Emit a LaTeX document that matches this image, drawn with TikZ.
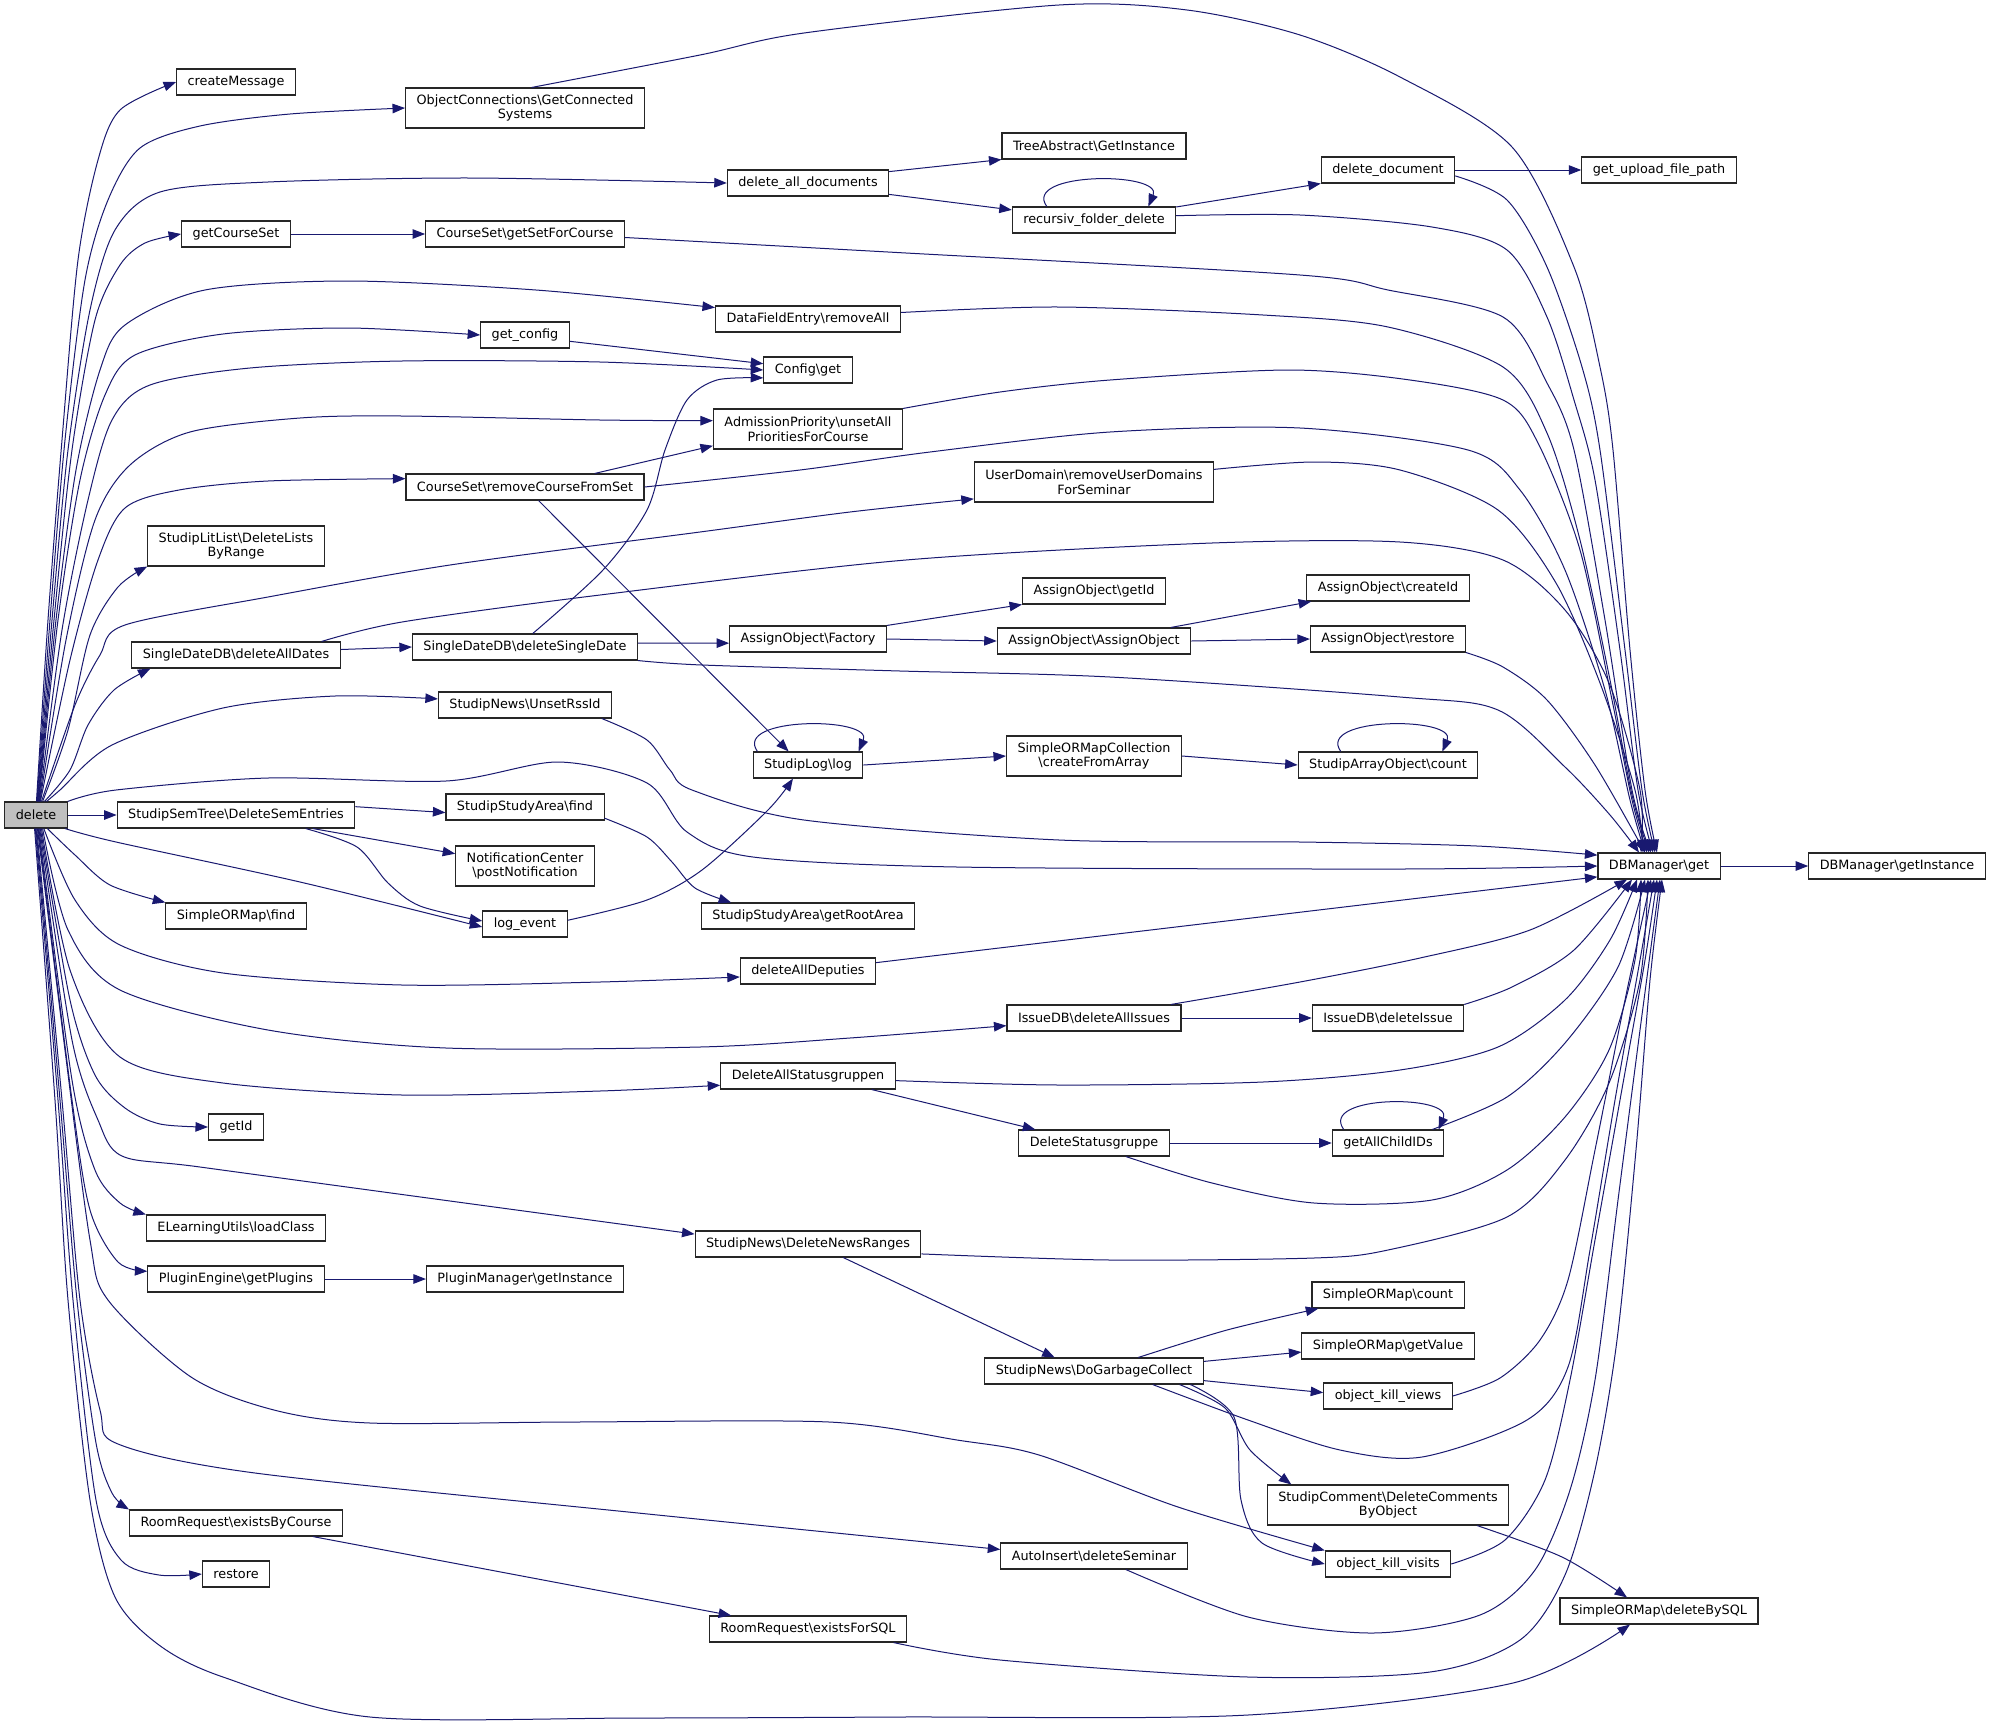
\documentclass[tikz,border=0pt]{standalone}
\usepackage{fontspec}
\setmainfont{DejaVu Sans}
\usetikzlibrary{arrows.meta}
\definecolor{edgecol}{HTML}{191970}
\definecolor{rootgray}{HTML}{BFBFBF}
\newcommand{\bsl}{\textbackslash}
\begin{document}
\begin{tikzpicture}[x=1pt,y=-1pt,
  fn/.style={draw=black!85,line width=1.1pt,fill=white,inner xsep=11pt,inner ysep=2pt,minimum height=26pt,align=center,font=\fontsize{12.8}{14.5}\selectfont},
  two/.style={minimum height=40pt},
  call/.style={draw=edgecol,line width=1pt,-{Triangle[length=12.5pt,width=9.5pt]}}]
\fill[white] (0,0) rectangle (1992,1727);
\useasboundingbox (0,0) rectangle (1992,1727);
\node[fn,fill=rootgray] (del) at (36,815) {delete};
\node[fn] (cmsg) at (236,82) {createMessage};
\node[fn,two] (ocgs) at (525,108) {ObjectConnections\bsl GetConnected\\Systems};
\node[fn] (gcs) at (236,234) {getCourseSet};
\node[fn] (gsfc) at (525,234) {CourseSet\bsl getSetForCourse};
\node[fn] (gcfg) at (525,335) {get\_config};
\node[fn] (dad) at (808,183) {delete\_all\_documents};
\node[fn] (tagi) at (1094,146) {TreeAbstract\bsl GetInstance};
\node[fn] (rfd) at (1094,220) {recursiv\_folder\_delete};
\node[fn] (ddoc) at (1388,170) {delete\_document};
\node[fn] (gufp) at (1659,170) {get\_upload\_file\_path};
\node[fn] (dfra) at (808,319) {DataFieldEntry\bsl removeAll};
\node[fn] (cfg) at (808,370) {Config\bsl get};
\node[fn,two] (apua) at (808,429) {AdmissionPriority\bsl unsetAll\\PrioritiesForCourse};
\node[fn] (rcfs) at (525,487) {CourseSet\bsl removeCourseFromSet};
\node[fn,two] (udr) at (1094,482) {UserDomain\bsl removeUserDomains\\ForSeminar};
\node[fn,two] (sll) at (236,546) {StudipLitList\bsl DeleteLists\\ByRange};
\node[fn] (sdall) at (236,655) {SingleDateDB\bsl deleteAllDates};
\node[fn] (sdone) at (525,647) {SingleDateDB\bsl deleteSingleDate};
\node[fn] (aogid) at (1094,591) {AssignObject\bsl getId};
\node[fn] (aofac) at (808,639) {AssignObject\bsl Factory};
\node[fn] (aoao) at (1094,641) {AssignObject\bsl AssignObject};
\node[fn] (aocid) at (1388,588) {AssignObject\bsl createId};
\node[fn] (aores) at (1388,639) {AssignObject\bsl restore};
\node[fn] (urss) at (525,705) {StudipNews\bsl UnsetRssId};
\node[fn] (slog) at (808,765) {StudipLog\bsl log};
\node[fn,two] (smcfa) at (1094,756) {SimpleORMapCollection\\\bsl createFromArray};
\node[fn] (saoc) at (1388,765) {StudipArrayObject\bsl count};
\node[fn] (dbm) at (1659,866) {DBManager\bsl get};
\node[fn] (dbmi) at (1897,866) {DBManager\bsl getInstance};
\node[fn] (sst) at (236,815) {StudipSemTree\bsl DeleteSemEntries};
\node[fn] (ssaf) at (525,807) {StudipStudyArea\bsl find};
\node[fn,two] (ncpn) at (525,866) {NotificationCenter\\\bsl postNotification};
\node[fn] (smf) at (236,916) {SimpleORMap\bsl find};
\node[fn] (lev) at (525,924) {log\_event};
\node[fn] (ssra) at (808,916) {StudipStudyArea\bsl getRootArea};
\node[fn] (dadp) at (808,971) {deleteAllDeputies};
\node[fn] (idai) at (1094,1018) {IssueDB\bsl deleteAllIssues};
\node[fn] (idi) at (1388,1018) {IssueDB\bsl deleteIssue};
\node[fn] (dasg) at (808,1076) {DeleteAllStatusgruppen};
\node[fn] (dsg) at (1094,1143) {DeleteStatusgruppe};
\node[fn] (gaci) at (1388,1143) {getAllChildIDs};
\node[fn] (gid) at (236,1127) {getId};
\node[fn] (elu) at (236,1228) {ELearningUtils\bsl loadClass};
\node[fn] (dnr) at (808,1244) {StudipNews\bsl DeleteNewsRanges};
\node[fn] (peg) at (236,1279) {PluginEngine\bsl getPlugins};
\node[fn] (pmi) at (525,1279) {PluginManager\bsl getInstance};
\node[fn] (smcnt) at (1388,1295) {SimpleORMap\bsl count};
\node[fn] (smgv) at (1388,1346) {SimpleORMap\bsl getValue};
\node[fn] (dgc) at (1094,1371) {StudipNews\bsl DoGarbageCollect};
\node[fn] (okv) at (1388,1396) {object\_kill\_views};
\node[fn,two] (scdo) at (1388,1505) {StudipComment\bsl DeleteComments\\ByObject};
\node[fn] (aids) at (1094,1556) {AutoInsert\bsl deleteSeminar};
\node[fn] (okvs) at (1388,1564) {object\_kill\_visits};
\node[fn] (smdb) at (1659,1611) {SimpleORMap\bsl deleteBySQL};
\node[fn] (rrbc) at (236,1523) {RoomRequest\bsl existsByCourse};
\node[fn] (rst) at (236,1574) {restore};
\node[fn] (rrsql) at (808,1629) {RoomRequest\bsl existsForSQL};
% calls out of delete, upper half
\draw[call] plot[smooth] coordinates {(del.88) (48,620) (62,440) (78,260) (98,160) (120,110) (cmsg.west)};
\draw[call] plot[smooth] coordinates {(del.86) (50,620) (65,440) (85,280) (108,200) (140,148) (200,126) (290,114) (ocgs.west)};
\draw[call] plot[smooth] coordinates {(del.84) (52,620) (68,450) (90,310) (115,230) (160,192) (268,182) (470,178) (dad.west)};
\draw[call] plot[smooth] coordinates {(del.82) (54,620) (72,450) (95,320) (120,265) (145,243) (gcs.west)};
\draw[call] plot[smooth] coordinates {(del.80) (56,620) (76,470) (100,370) (125,325) (205,290) (348,281) (536,290) (dfra.173)};
\draw[call] plot[smooth] coordinates {(del.78) (58,620) (80,480) (105,395) (135,355) (223,334) (348,328) (gcfg.west)};
\draw[call] plot[smooth] coordinates {(del.76) (62,630) (88,500) (112,420) (150,385) (250,368) (402,361) (600,362) (cfg.180)};
\draw[call] plot[smooth] coordinates {(del.74) (66,640) (95,520) (130,465) (190,432) (300,418) (402,416) (600,420) (apua.175)};
\draw[call] plot[smooth] coordinates {(del.72) (70,660) (98,560) (125,508) (179,490) (268,481) (rcfs.176)};
\draw[call] plot[smooth] coordinates {(del.68) (75,705) (100,655) (125,625) (268,597) (450,565) (700,532) (850,512) (udr.188)};
\draw[call] plot[smooth] coordinates {(del.64) (68,730) (90,635) (118,587) (sll.south west)};
\draw[call] plot[smooth] coordinates {(del.58) (70,770) (88,725) (114,690) (sdall.189)};
\draw[call] plot[smooth] coordinates {(del.52) (60,790) (112,745) (223,708) (335,696) (urss.176)};
\draw[call] plot[smooth] coordinates {(del.north east) (116,790) (268,778) (446,781) (558,762) (647,783) (687,832) (753,857) (957,867) (1400,869) (dbm.west)};
% calls out of delete, lower half
\draw[call] (del.east) -- (sst.west);
\draw[call] plot[smooth] coordinates {(del.-25) (116,842) (300,882) (lev.184)};
\draw[call] plot[smooth] coordinates {(del.-50) (75,855) (110,885) (smf.north west)};
\draw[call] plot[smooth] coordinates {(del.-60) (75,900) (120,945) (223,973) (402,985) (600,982) (dadp.185)};
\draw[call] plot[smooth] coordinates {(del.-64) (68,930) (120,990) (268,1030) (446,1048) (700,1047) (850,1038) (idai.185)};
\draw[call] plot[smooth] coordinates {(del.-68) (70,970) (120,1057) (223,1083) (402,1095) (600,1091) (dasg.186)};
\draw[call] plot[smooth] coordinates {(del.-72) (70,1000) (95,1075) (125,1108) (160,1124) (gid.west)};
\draw[call] plot[smooth] coordinates {(del.-75) (72,1040) (98,1120) (122,1156) (200,1167) (450,1201) (dnr.175)};
\draw[call] plot[smooth] coordinates {(del.-78) (72,1080) (95,1170) (120,1203) (elu.north west)};
\draw[call] plot[smooth] coordinates {(del.-81) (72,1100) (90,1210) (118,1262) (peg.175)};
\draw[call] plot[smooth] coordinates {(del.-84) (65,1050) (90,1240) (108,1300) (191,1377) (274,1410) (370,1423) (574,1422) (829,1422) (957,1440) (1039,1455) (1178,1507) (okvs.north west)};
\draw[call] plot[smooth] coordinates {(del.-87) (62,1100) (80,1300) (100,1410) (118,1444) (255,1473) (638,1513) (aids.176)};
\draw[call] plot[smooth] coordinates {(del.-90) (60,1100) (77,1300) (96,1443) (112,1493) (rrbc.north west)};
\draw[call] plot[smooth] coordinates {(del.-93) (58,1100) (73,1300) (96,1500) (121,1560) (159,1575) (rst.west)};
\draw[call] plot[smooth] coordinates {(del.-96) (55,1100) (68,1300) (90,1500) (115,1597) (159,1645) (223,1677) (370,1717) (638,1718) (900,1717) (1248,1715) (1513,1683) (smdb.205)};
% into DBManager from above
\draw[call] plot[smooth] coordinates {(ocgs.72) (700,55) (804,33) (1059,5) (1187,10) (1300,35) (1400,77) (1512,147) (1574,267) (1600,367) (1613,450) (1630,650) (1645,790) ([xshift=-2pt]dbm.north)};
\draw[call] plot[smooth] coordinates {(ddoc.-5) (1507,200) (1547,267) (1582,367) (1600,450) (1625,650) (1642,790) ([xshift=-4pt]dbm.north)};
\draw[call] plot[smooth] coordinates {(rfd.3) (1300,215) (1432,227) (1507,250) (1547,317) (1574,400) (1595,480) (1620,650) (1638,790) ([xshift=-6pt]dbm.north)};
\draw[call] plot[smooth] coordinates {(gsfc.-2) (906,253) (1300,275) (1388,290) (1503,317) (1547,383) (1574,450) (1605,620) (1632,790) ([xshift=-8pt]dbm.north)};
\draw[call] plot[smooth] coordinates {(dfra.4) (1059,307) (1263,315) (1388,327) (1503,367) (1547,433) (1580,540) (1610,680) (1632,795) ([xshift=-10pt]dbm.north)};
\draw[call] plot[smooth] coordinates {(apua.north east) (1000,392) (1110,380) (1289,370) (1410,380) (1503,400) (1538,443) (1580,550) (1612,700) (1632,800) ([xshift=-12pt]dbm.north)};
\draw[call] plot[smooth] coordinates {(rcfs.east) (800,470) (930,452) (1110,432) (1300,428) (1468,450) (1520,490) (1565,570) (1605,690) (1630,800) ([xshift=-14pt]dbm.north)};
\draw[call] plot[smooth] coordinates {(udr.6) (1314,462) (1400,470) (1498,510) (1556,583) (1600,683) (1635,790) ([xshift=-16pt]dbm.north)};
\draw[call] plot[smooth] coordinates {(sdall.9) (402,622) (600,595) (906,560) (1212,543) (1400,542) (1503,560) (1565,610) (1609,683) (1640,790) ([xshift=-18pt]dbm.north)};
\draw[call] plot[smooth] coordinates {(sdone.south east) (702,665) (900,671) (1110,677) (1400,697) (1498,710) (1565,767) (1610,815) ([xshift=-20pt]dbm.north)};
\draw[call] plot[smooth] coordinates {(aores.south east) (1503,667) (1547,700) (1595,765) ([xshift=-14pt]dbm.north)};
\draw[call] plot[smooth] coordinates {(urss.-10) (647,740) (670,770) (692,790) (804,820) (1059,840) (1300,842) (1477,846) (dbm.170)};
\draw[call] (dadp.7) -- (dbm.190);
% into DBManager from below
\draw[call] plot[smooth] coordinates {(idai.10) (1300,982) (1420,958) (1530,930) ([xshift=-32pt]dbm.south)};
\draw[call] plot[smooth] coordinates {(idi.north east) (1512,987) (1574,950) ([xshift=-27pt]dbm.south)};
\draw[call] plot[smooth] coordinates {(dasg.-3) (1059,1085) (1263,1082) (1400,1070) (1498,1047) (1565,1000) (1610,940) ([xshift=-22pt]dbm.south)};
\draw[call] plot[smooth] coordinates {(dsg.-23) (1212,1183) (1314,1203) (1432,1200) (1507,1170) (1565,1117) (1609,1050) (1635,960) ([xshift=-18pt]dbm.south)};
\draw[call] plot[smooth] coordinates {(gaci.17) (1507,1097) (1565,1043) (1618,967) ([xshift=-14pt]dbm.south)};
\draw[call] plot[smooth] coordinates {(dnr.-5) (1110,1260) (1314,1258) (1388,1250) (1507,1217) (1565,1160) (1609,1083) (1640,980) ([xshift=-11pt]dbm.south)};
\draw[call] plot[smooth] coordinates {(okv.east) (1500,1378) (1540,1340) (1568,1280) (1595,1150) (1625,1000) ([xshift=-8pt]dbm.south)};
\draw[call] plot[smooth] coordinates {(dgc.-13) (1248,1420) (1340,1450) (1422,1457) (1527,1420) (1568,1367) (1590,1250) (1615,1100) (1640,960) ([xshift=-5pt]dbm.south)};
\draw[call] plot[smooth] coordinates {(okvs.east) (1505,1540) (1545,1480) (1570,1380) (1595,1240) (1620,1100) (1645,960) ([xshift=-2pt]dbm.south)};
\draw[call] plot[smooth] coordinates {(aids.-23) (1248,1617) (1373,1633) (1480,1615) (1535,1570) (1570,1490) (1595,1380) (1618,1200) (1640,1030) ([xshift=1pt]dbm.south)};
\draw[call] plot[smooth] coordinates {(rrsql.-9) (1000,1660) (1248,1677) (1430,1672) (1520,1640) (1565,1575) (1595,1470) (1617,1340) (1636,1150) (1650,980) ([xshift=3pt]dbm.south)};
% the rest
\draw[call] (dad.8) -- (tagi.south west);
\draw[call] (dad.-8) -- (rfd.173);
\draw[call] (rfd.164) .. controls +(-25,-35) and +(15,-35) .. (rfd.14);
\draw[call] (rfd.9) -- (ddoc.south west);
\draw[call] (ddoc.east) -- (gufp.west);
\draw[call] (gcs.east) -- (gsfc.west);
\draw[call] (gcfg.-8) -- (cfg.172);
\draw[call] plot[smooth] coordinates {(sdone.60) (603,570) (647,510) (665,450) (687,400) (717,380) (cfg.190)};
\draw[call] (rcfs.11) -- (apua.190);
\draw[call] (rcfs.-45) -- (slog.145);
\draw[call] (sdall.3) -- (sdone.west);
\draw[call] (sdone.2) -- (aofac.183);
\draw[call] (aofac.north east) -- (aogid.south west);
\draw[call] (aofac.east) -- (aoao.west);
\draw[call] (aoao.10) -- (aocid.190);
\draw[call] (aoao.east) -- (aores.west);
\draw[call] (slog.165) .. controls +(-25,-35) and +(15,-35) .. (slog.15);
\draw[call] (slog.east) -- (smcfa.west);
\draw[call] (smcfa.east) -- (saoc.west);
\draw[call] (saoc.164) .. controls +(-25,-35) and +(15,-35) .. (saoc.14);
\draw[call] (sst.4) -- (ssaf.184);
\draw[call] (sst.-10) -- (ncpn.170);
\draw[call] plot[smooth] coordinates {(sst.-11) (357,847) (388,883) (420,906) (lev.176)};
\draw[call] plot[smooth] coordinates {(ssaf.-8) (647,837) (672,862) (695,888) (ssra.170)};
\draw[call] plot[smooth] coordinates {(lev.5) (647,900) (702,870) (768,810) (slog.222)};
\draw[call] (dbm.east) -- (dbmi.west);
\draw[call] (idai.east) -- (idi.west);
\draw[call] (dasg.-12) -- (dsg.167);
\draw[call] (dsg.east) -- (gaci.west);
\draw[call] (gaci.163) .. controls +(-25,-35) and +(15,-35) .. (gaci.15);
\draw[call] (dnr.-21) -- (dgc.161);
\draw[call] (peg.east) -- (pmi.west);
\draw[call] plot[smooth] coordinates {(dgc.17) (1227,1330) (smcnt.191)};
\draw[call] (dgc.5) -- (smgv.184);
\draw[call] (dgc.-5) -- (okv.177);
\draw[call] plot[smooth] coordinates {(dgc.-9) (1225,1408) (1250,1450) (scdo.168)};
\draw[call] plot[smooth] coordinates {(dgc.-8) (1234,1417) (1241,1500) (1262,1543) (okvs.west)};
\draw[call] plot[smooth] coordinates {(scdo.-13) (1562,1557) (smdb.157)};
\draw[call] (rrbc.-10) -- (rrsql.170);
\end{tikzpicture}
\end{document}
